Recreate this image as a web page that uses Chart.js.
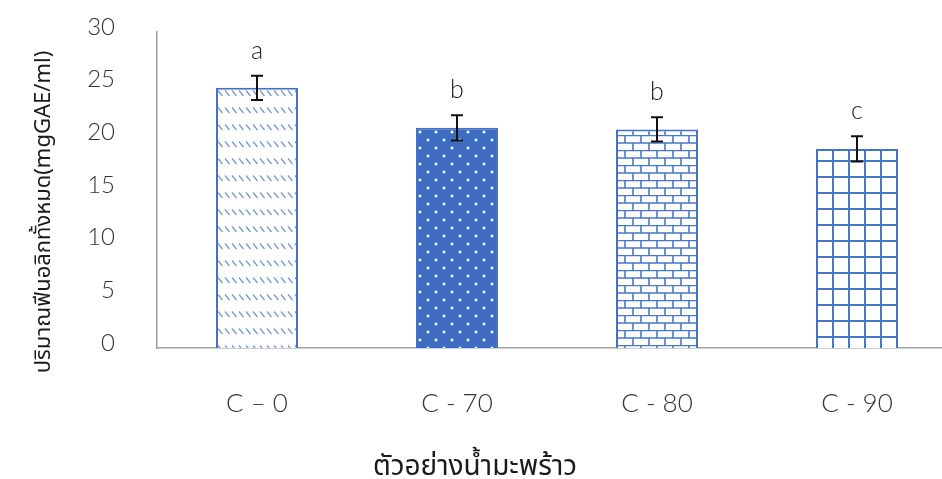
<!DOCTYPE html>
<html>
<head>
<meta charset="utf-8">
<script src="https://cdn.jsdelivr.net/npm/chart.js@4/dist/chart.umd.min.js"></script>
<style>
  html, body { margin: 0; padding: 0; background: #fff; overflow: hidden; }
  #wrap { width: 942px; height: 479px; overflow: hidden; }
</style>
</head>
<body>
<div id="wrap"><canvas id="c" width="1000" height="479" style="width:1000px;height:479px"></canvas></div>
<script>
// Total phenolic content of coconut water samples
const categories = ['C – 0', 'C - 70', 'C - 80', 'C - 90'];
const phenolic = [24.7, 20.9, 20.75, 18.9];
const errors = [1.15, 1.2, 1.15, 1.2];
const groupLetters = ['a', 'b', 'b', 'c'];
const yTicks = [0, 5, 10, 15, 20, 25, 30];
const xTitle = 'ตัวอย่างน้ำมะพร้าว';
const yTitle = 'ปริมาณฟีนอลิกทั้งหมด(mgGAE/ml)';

const BLUE = '#4472c4';
const FONT = "Lato, 'Open Sans', 'Noto Sans', sans-serif";
const THAI_FONT = "'Noto Sans Thai', 'Noto Sans', 'Open Sans', sans-serif";

function makeTile(w, h, draw) {
  const cv = document.createElement('canvas');
  cv.width = w; cv.height = h;
  const g = cv.getContext('2d');
  draw(g, w, h);
  return document.getElementById('c').getContext('2d').createPattern(cv, 'repeat');
}

// light diagonal dashes
const dashPattern = makeTile(7, 17, (g, w, h) => {
  g.fillStyle = '#fff'; g.fillRect(0, 0, w, h);
  g.strokeStyle = '#7a98d2'; g.lineWidth = 1.3;
  g.beginPath(); g.moveTo(1, 5.5); g.lineTo(5.5, 11); g.stroke();
});
// white dots on solid blue
const dotPattern = makeTile(16, 16, (g, w, h) => {
  g.fillStyle = '#3e6cc0'; g.fillRect(0, 0, w, h);
  g.fillStyle = '#eef2fb';
  g.beginPath(); g.arc(4, 4, 1.5, 0, Math.PI * 2); g.fill();
  g.beginPath(); g.arc(12, 12, 1.5, 0, Math.PI * 2); g.fill();
});
// brick wall
const brickPattern = makeTile(16, 15, (g, w, h) => {
  g.fillStyle = '#fff'; g.fillRect(0, 0, w, h);
  g.strokeStyle = '#4a78c8'; g.lineWidth = 1.6;
  g.beginPath();
  g.moveTo(0, 0.5); g.lineTo(w, 0.5);
  g.moveTo(0, 8); g.lineTo(w, 8);
  g.moveTo(1, 0.5); g.lineTo(1, 8);
  g.moveTo(9, 8); g.lineTo(9, h);
  g.stroke();
});
// square grid
const gridPattern = makeTile(16, 16, (g, w, h) => {
  g.fillStyle = '#fff'; g.fillRect(0, 0, w, h);
  g.strokeStyle = '#4a78c8'; g.lineWidth = 2;
  g.beginPath();
  g.moveTo(0, 1); g.lineTo(w, 1);
  g.moveTo(1, 0); g.lineTo(1, h);
  g.stroke();
});

// error bars, group letters and axis titles
const annotations = {
  id: 'annotations',
  afterDatasetsDraw(chart) {
    const ctx = chart.ctx;
    const meta = chart.getDatasetMeta(0);
    const y = chart.scales.y;
    ctx.save();
    ctx.strokeStyle = '#111';
    ctx.lineWidth = 2;
    meta.data.forEach((bar, i) => {
      const top = y.getPixelForValue(phenolic[i] + errors[i]);
      const bot = y.getPixelForValue(phenolic[i] - errors[i]);
      const x = bar.x;
      ctx.beginPath();
      ctx.moveTo(x, top); ctx.lineTo(x, bot);
      ctx.moveTo(x - 6, top); ctx.lineTo(x + 6, top);
      ctx.moveTo(x - 6, bot); ctx.lineTo(x + 6, bot);
      ctx.stroke();
      ctx.fillStyle = '#222';
      ctx.font = '300 25px ' + FONT;
      ctx.textAlign = 'center';
      ctx.textBaseline = 'middle';
      ctx.fillText(groupLetters[i], x, top - 25);
    });

    ctx.fillStyle = '#1a1a1a';
    ctx.textAlign = 'center';
    ctx.textBaseline = 'alphabetic';
    ctx.font = '28px ' + THAI_FONT;
    ctx.fillText(xTitle, 475, 475);

    ctx.translate(50, 212);
    ctx.rotate(-Math.PI / 2);
    ctx.font = '22px ' + THAI_FONT;
    ctx.fillText(yTitle, 0, 0);
    ctx.restore();
  }
};

new Chart(document.getElementById('c'), {
  type: 'bar',
  data: {
    labels: categories,
    datasets: [{
      data: phenolic,
      backgroundColor: [dashPattern, dotPattern, brickPattern, gridPattern],
      borderColor: BLUE,
      borderWidth: 2,
      barPercentage: 0.41,
      categoryPercentage: 1.0
    }]
  },
  options: {
    responsive: false,
    animation: false,
    devicePixelRatio: 1,
    layout: { padding: { top: 32, right: 43, left: 0, bottom: 0 } },
    plugins: { legend: { display: false }, tooltip: { enabled: false } },
    scales: {
      x: {
        grid: { display: false, drawTicks: false },
        border: { display: true, color: '#a0a0a0', width: 1.5 },
        ticks: { color: '#333', font: { family: FONT, size: 26, weight: '300' }, padding: 40 },
        afterFit(scale) {
          scale.height = 131;
          scale.paddingLeft = 0; scale.paddingRight = 0;
        }
      },
      y: {
        min: 0, max: 30,
        afterBuildTicks(scale) { scale.ticks = yTicks.map(v => ({ value: v })); },
        grid: { display: false, drawTicks: false },
        border: { display: true, color: '#a0a0a0', width: 1.5 },
        ticks: { color: '#333', font: { family: FONT, size: 24, weight: '300' }, padding: 42, labelOffset: -5 },
        afterFit(scale) {
          scale.width = 157;
          scale.paddingTop = 0; scale.paddingBottom = 0;
        }
      }
    }
  },
  plugins: [annotations]
});
</script>
</body>
</html>
